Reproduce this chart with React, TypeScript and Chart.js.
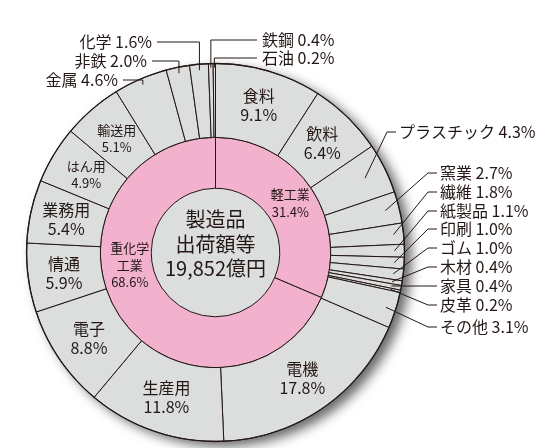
import React, { useEffect, useRef } from "react";
import { Chart, registerables } from "chart.js";

Chart.register(...registerables);

// ---- data ----
const lightCategories = ["食料", "飲料", "プラスチック", "窯業", "繊維", "紙製品", "印刷", "ゴム", "木材", "家具", "皮革", "その他"];
const lightValues = [9.1, 6.4, 4.3, 2.7, 1.8, 1.1, 1.0, 1.0, 0.4, 0.4, 0.2, 3.1];
const heavyCategories = ["電機", "生産用", "電子", "情通", "業務用", "はん用", "輸送用", "金属", "非鉄", "化学", "鉄鋼", "石油"];
const heavyValues = [17.8, 11.8, 8.8, 5.9, 5.4, 4.9, 5.1, 4.6, 2.0, 1.6, 0.4, 0.2];
const groupCategories = ["軽工業", "重化学工業"];
const groupValues = [31.4, 68.6];
const centerLines = ["製造品", "出荷額等", "19,852億円"];

const outerCategories = [...lightCategories, ...heavyCategories];
const outerValues = [...lightValues, ...heavyValues];

// ---- styles / layout ----
const INK = "#231815";
const GRAY = "#dcdddd";
const PINK = "#f2b1cd";
const FONT = '"Noto Sans CJK JP", "Noto Sans", sans-serif';

const insideBig = new Set(["食料", "飲料", "業務用", "情通", "電子", "生産用", "電機"]);
const insideSmall = new Set(["輸送用", "はん用"]);
const leftTop: Record<string, { y: number; right: number }> = {
  化学: { y: 42, right: 152 },
  非鉄: { y: 61, right: 147 },
  金属: { y: 80, right: 118 },
};
const rightTop: Record<string, { y: number; left: number }> = {
  鉄鋼: { y: 40, left: 262 },
  石油: { y: 58, left: 262 },
};
const rightSide: Record<string, { y: number; left: number; depth: number }> = {
  プラスチック: { y: 132, left: 399, depth: 22 },
  窯業: { y: 173, left: 440, depth: 14 },
  繊維: { y: 192, left: 440, depth: 10 },
  紙製品: { y: 211, left: 440, depth: 10 },
  印刷: { y: 229, left: 440, depth: 10 },
  ゴム: { y: 248, left: 440, depth: 10 },
  木材: { y: 267, left: 440, depth: 10 },
  家具: { y: 286, left: 440, depth: 10 },
  皮革: { y: 305, left: 440, depth: 10 },
  その他: { y: 327, left: 440, depth: 10 },
};

const labelPlugin = {
  id: "labels",
  beforeDatasetsDraw(chart: any) {
    const meta = chart.getDatasetMeta(0);
    const a = meta.data[0];
    if (!a) return;
    const { x, y, outerRadius } = a.getProps(["x", "y", "outerRadius"], true);
    const ctx = chart.ctx;
    ctx.save();
    ctx.shadowColor = "rgba(0,0,0,0.6)";
    ctx.shadowBlur = 12;
    ctx.shadowOffsetX = 7;
    ctx.shadowOffsetY = 5;
    ctx.fillStyle = GRAY;
    ctx.beginPath();
    ctx.arc(x, y, outerRadius, 0, Math.PI * 2);
    ctx.fill();
    ctx.restore();
  },
  afterDatasetsDraw(chart: any) {
    const ctx = chart.ctx;
    const meta = chart.getDatasetMeta(0);
    const meta1 = chart.getDatasetMeta(1);
    const first = meta.data[0].getProps(["x", "y", "outerRadius"], true);
    const cx = first.x;
    const cy = first.y;
    ctx.save();
    // outer edge stroke
    ctx.strokeStyle = INK;
    ctx.lineWidth = 1.3;
    ctx.beginPath();
    ctx.arc(cx, cy, first.outerRadius, 0, Math.PI * 2);
    ctx.stroke();

    ctx.fillStyle = INK;
    ctx.textAlign = "center";
    ctx.textBaseline = "middle";
    ctx.lineWidth = 1;

    meta.data.forEach((arc: any, i: number) => {
      const p = arc.getProps(["x", "y", "startAngle", "endAngle", "innerRadius", "outerRadius"], true);
      const mid = (p.startAngle + p.endAngle) / 2;
      const name = outerCategories[i];
      const pct = outerValues[i].toFixed(1) + "%";
      if (insideBig.has(name) || insideSmall.has(name)) {
        const big = insideBig.has(name);
        const r = big ? 153 : 151;
        const lx = cx + r * Math.cos(mid);
        const ly = cy + r * Math.sin(mid);
        const fs = big ? 16 : 13;
        const gap = big ? 9.5 : 8.5;
        ctx.font = `${fs}px ${FONT}`;
        ctx.textAlign = "center";
        ctx.fillText(name, lx, ly - gap);
        ctx.fillText(pct, lx, ly + gap);
        return;
      }
      const text = `${name} ${pct}`;
      ctx.font = `16px ${FONT}`;
      ctx.beginPath();
      if (leftTop[name]) {
        const L = leftTop[name];
        const r = p.outerRadius - 6;
        const ax = cx + r * Math.cos(mid);
        const ay = cy + r * Math.sin(mid);
        ctx.moveTo(ax, ay);
        ctx.lineTo(ax, L.y);
        ctx.lineTo(L.right + 5, L.y);
        ctx.stroke();
        ctx.textAlign = "right";
        ctx.fillText(text, L.right, L.y);
      } else if (rightTop[name]) {
        const L = rightTop[name];
        const r = p.outerRadius - 4;
        const ax = cx + r * Math.cos(mid);
        const ay = cy + r * Math.sin(mid);
        ctx.moveTo(ax, ay);
        ctx.lineTo(ax, L.y);
        ctx.lineTo(L.left - 5, L.y);
        ctx.stroke();
        ctx.textAlign = "left";
        ctx.fillText(text, L.left, L.y);
      } else if (rightSide[name]) {
        const L = rightSide[name];
        const r = p.outerRadius - L.depth;
        const ax = cx + r * Math.cos(mid);
        const ay = cy + r * Math.sin(mid);
        const ex = L.left - 12;
        ctx.moveTo(ax, ay);
        ctx.lineTo(ex, L.y);
        ctx.lineTo(L.left - 3, L.y);
        ctx.stroke();
        ctx.textAlign = "left";
        ctx.fillText(text, L.left, L.y);
      }
    });

    // inner ring labels
    meta1.data.forEach((arc: any, i: number) => {
      const p = arc.getProps(["x", "y", "startAngle", "endAngle", "innerRadius", "outerRadius"], true);
      const r = (p.innerRadius + p.outerRadius) / 2;
      ctx.font = `13px ${FONT}`;
      ctx.textAlign = "center";
      const pct = groupValues[i].toFixed(1) + "%";
      if (i === 0) {
        const mid = (p.startAngle + p.endAngle) / 2;
        const lx = p.x + r * Math.cos(mid);
        const ly = p.y + r * Math.sin(mid);
        ctx.fillText(groupCategories[i], lx, ly - 9);
        ctx.fillText(pct, lx, ly + 9);
      } else {
        const ang = (171.5 * Math.PI) / 180;
        const lx = p.x + (r - 3) * Math.cos(ang);
        const ly = p.y + (r - 3) * Math.sin(ang);
        const nm = groupCategories[i];
        ctx.fillText(nm.slice(0, 3), lx, ly - 17);
        ctx.fillText(nm.slice(3), lx, ly);
        ctx.fillText(pct, lx, ly + 17);
      }
    });

    // center
    ctx.font = `20px ${FONT}`;
    ctx.textAlign = "center";
    centerLines.forEach((t, k) => {
      ctx.fillText(t, cx, cy - 33 + k * 24.5);
    });
    ctx.restore();
  },
};

export default function App() {
  const ref = useRef<HTMLCanvasElement | null>(null);
  useEffect(() => {
    if (!ref.current) return;
    const chart = new Chart(ref.current, {
      type: "doughnut",
      data: {
        labels: outerCategories,
        datasets: [
          {
            data: outerValues,
            backgroundColor: GRAY,
            borderColor: INK,
            borderWidth: 1,
            hoverOffset: 0,
            weight: 74,
          } as any,
          {
            data: groupValues,
            backgroundColor: PINK,
            borderColor: INK,
            borderWidth: 1,
            hoverOffset: 0,
            weight: 51,
          } as any,
        ],
      },
      options: {
        responsive: false,
        animation: false,
        cutout: "34%",
        layout: { padding: { left: 26, right: 130, top: 63, bottom: 6 } },
        plugins: { legend: { display: false }, tooltip: { enabled: false }, title: { display: false } },
        events: [],
      },
      plugins: [labelPlugin],
    });
    return () => chart.destroy();
  }, []);
  return (
    <div style={{ position: "absolute", left: 0, top: 0, width: 535, height: 448, background: "#fff" }}>
      <canvas ref={ref} width={535} height={448} />
    </div>
  );
}
